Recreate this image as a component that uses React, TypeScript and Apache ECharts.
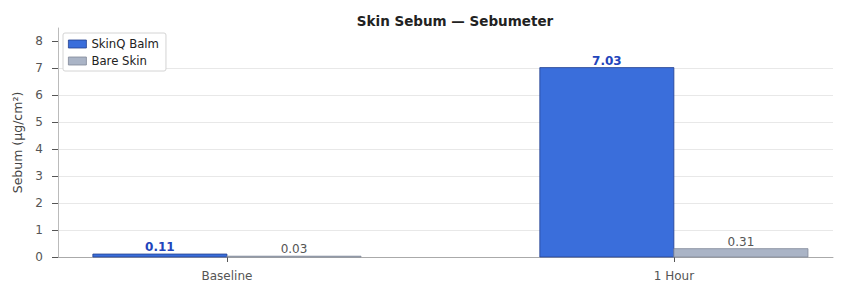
import React, { useEffect, useRef } from "react";
import * as echarts from "echarts";

const categories = ["Baseline", "1 Hour"];
const seriesNames = ["SkinQ Balm", "Bare Skin"];
const balmValues = [0.11, 7.03];
const bareValues = [0.03, 0.31];
const yTicks = [0, 1, 2, 3, 4, 5, 6, 7, 8];

const FONT = "DejaVu Sans, sans-serif";
const BAR_W = 0.3;

function makeSeries(name: string, values: number[], offset: number, fill: string, stroke: string, labelColor: string, bold: boolean) {
  return {
    type: "custom",
    name,
    itemStyle: { color: fill, borderColor: stroke },
    data: values.map((v, i) => [i, v]),
    renderItem: (params: any, api: any) => {
      const x = api.value(0) as number;
      const v = api.value(1) as number;
      const p0 = api.coord([x + offset - BAR_W / 2, 0]);
      const p1 = api.coord([x + offset + BAR_W / 2, v]);
      return {
        type: "group",
        children: [
          {
            type: "rect",
            shape: { x: p0[0], y: p1[1], width: p1[0] - p0[0], height: p0[1] - p1[1] },
            style: { fill, stroke, lineWidth: 0.8 },
          },
          {
            type: "text",
            x: (p0[0] + p1[0]) / 2,
            y: p1[1] - 1,
            style: {
              text: v.toFixed(2),
              fill: labelColor,
              font: `${bold ? "bold " : ""}12px ${FONT}`,
              textAlign: "center",
              textVerticalAlign: "bottom",
            },
          },
        ],
      };
    },
  };
}

export default function App() {
  const ref = useRef<HTMLDivElement>(null);
  useEffect(() => {
    if (!ref.current) return;
    document.body.style.margin = "0";
    const chart = echarts.init(ref.current, null, { renderer: "svg" });
    chart.setOption({
      animation: false,
      textStyle: { fontFamily: FONT },
      title: {
        text: "Skin Sebum — Sebumeter",
        left: 450,
        textAlign: "center",
        top: 9,
        textStyle: { fontFamily: FONT, fontSize: 13.5, fontWeight: "bold", color: "#222" },
      },
      legend: {
        left: 63,
        top: 33,
        orient: "vertical",
        itemWidth: 18,
        itemHeight: 8,
        itemGap: 5,
        padding: [5, 7, 4, 5],
        borderColor: "#d4d4d4",
        borderWidth: 1,
        borderRadius: 2,
        backgroundColor: "#fff",
        textStyle: { fontFamily: FONT, fontSize: 11.7, color: "#222" },
        data: [
          { name: seriesNames[0], icon: "rect", itemStyle: { color: "#3a6edb", borderColor: "#23408e", borderWidth: 0.8 } },
          { name: seriesNames[1], icon: "rect", itemStyle: { color: "#aab4c6", borderColor: "#808898", borderWidth: 0.8 } },
        ],
      },
      grid: { left: 58, right: 13, top: 28, bottom: 27 },
      xAxis: {
        type: "value",
        min: -0.378,
        max: 1.356,
        axisLine: { show: true, onZero: false, lineStyle: { color: "#aaa", width: 1 } },
        axisTick: { show: true, length: 5, lineStyle: { color: "#555" }, customValues: [0, 1] },
        axisLabel: {
          customValues: [0, 1],
          formatter: (v: number) => categories[Math.round(v)] ?? "",
          color: "#555",
          fontSize: 12,
          fontFamily: FONT,
          margin: 13,
        },
        splitLine: { show: false },
      },
      yAxis: {
        type: "value",
        min: 0,
        max: 8.5,
        interval: 1,
        name: "Sebum (µg/cm²)",
        nameLocation: "middle",
        nameGap: 34,
        nameTextStyle: { fontFamily: FONT, fontSize: 12.5, color: "#444" },
        axisLine: { show: true, onZero: false, lineStyle: { color: "#bbb", width: 1 } },
        axisTick: { show: true, length: 6, lineStyle: { color: "#555" }, customValues: yTicks },
        axisLabel: {
          customValues: yTicks,
          color: "#555",
          fontSize: 12,
          fontFamily: FONT,
          margin: 15,
        },
        splitLine: { show: true, showMaxLine: false, lineStyle: { color: "#e8e8e8", width: 1 } },
      },
      series: [
        makeSeries(seriesNames[0], balmValues, -0.15, "#3a6edb", "#23408e", "#2244bb", true),
        makeSeries(seriesNames[1], bareValues, 0.15, "#aab4c6", "#808898", "#555", false),
      ],
    });
    return () => chart.dispose();
  }, []);
  return <div ref={ref} style={{ width: 846, height: 284 }} />;
}
